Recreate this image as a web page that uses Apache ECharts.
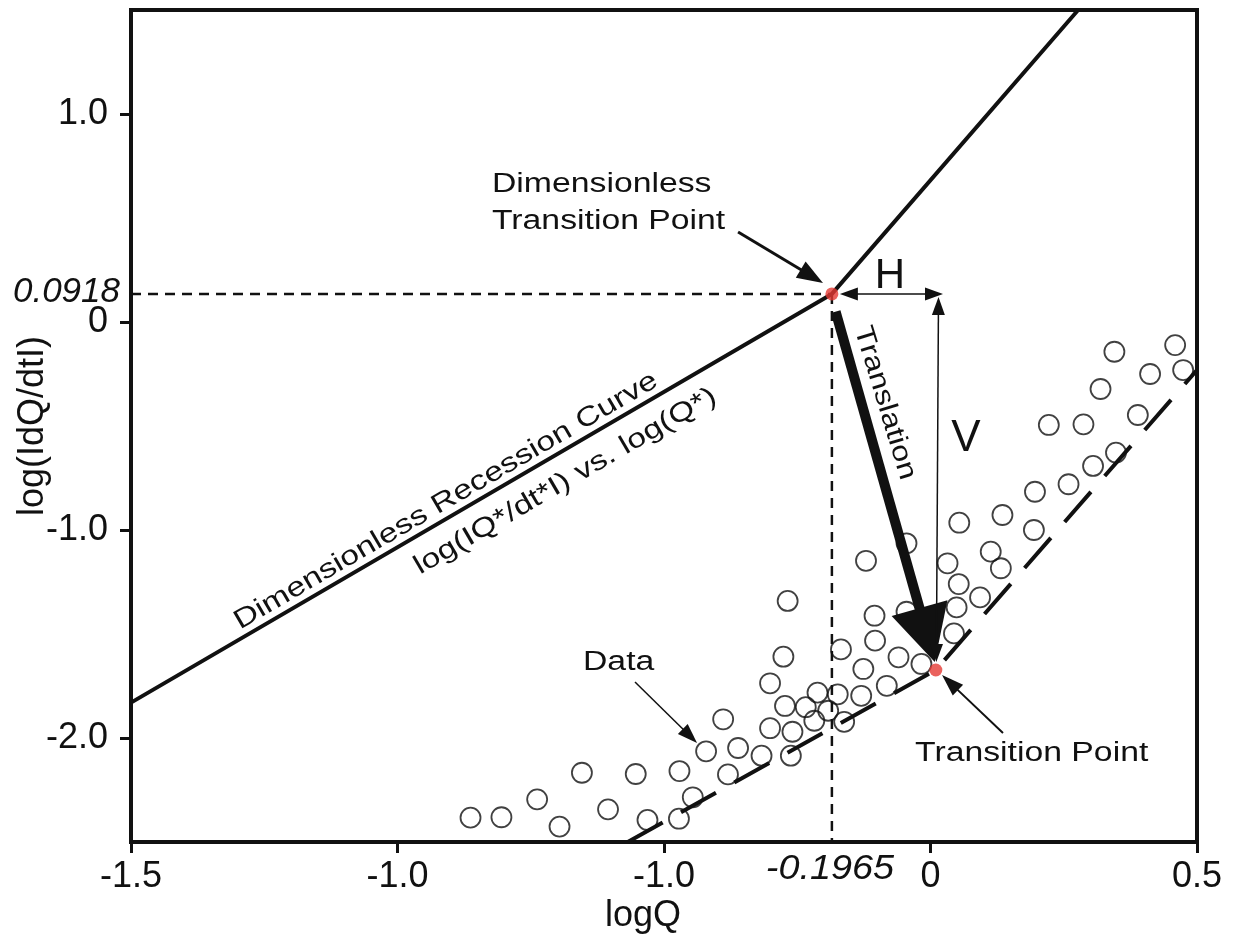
<!DOCTYPE html>
<html>
<head>
<meta charset="utf-8">
<title>Recession curve translation</title>
<script src="https://cdn.jsdelivr.net/npm/echarts@6/dist/echarts.min.js"></script>
<style>
  html, body { margin: 0; padding: 0; background: #fff; }
  #main { width: 1237px; height: 936px; }
</style>
</head>
<body>
<div id="main"></div>
<script>
var FONT = '"Liberation Sans", Arial, sans-serif';

// axis ticks (the third x label really reads -1.0 in the original)
var xTickValues = [-1.5, -1.0, -0.5, 0, 0.5];
var xTickLabels = ['-1.5', '-1.0', '-1.0', '0', '0.5'];
var yTickValues = [1.0, 0, -1.0, -2.0];
var yTickLabels = ['1.0', '0', '-1.0', '-2.0'];

// dimensionless recession curve, and the same curve moved onto the data
var recessionCurve = [[-1.5, -1.83], [-0.185, 0.135], [0.277, 1.5]];
var shiftedCurve = [[-0.568, -2.5], [0.01, -1.673], [0.5, -0.231]];

var dimPoint = [-0.185, 0.135];
var transPoint = [0.01, -1.673];
var dimLabelX = '-0.1965';
var dimLabelY = '0.0918';

// observed recession data (logQ, log|dQ/dt|)
var dataQ = [-0.863, -0.805, -0.738, -0.696, -0.654, -0.605, -0.553, -0.531, -0.471, -0.472,
  -0.446, -0.421, -0.389, -0.380, -0.361, -0.317, -0.262, -0.301, -0.259, -0.273,
  -0.301, -0.276, -0.268, -0.234, -0.212, -0.218, -0.192, -0.174, -0.162, -0.168,
  -0.130, -0.126, -0.104, -0.105, -0.121, -0.082, -0.060, -0.045, -0.017, -0.045,
  0.054, 0.135, 0.032, 0.053, 0.049, 0.044, 0.093, 0.113, 0.132, 0.194,
  0.196, 0.259, 0.305, 0.348, 0.389, 0.222, 0.287, 0.319, 0.345, 0.412,
  0.459, 0.474];
var dataRate = [-2.383, -2.381, -2.295, -2.426, -2.167, -2.343, -2.173, -2.394, -2.159, -2.388,
  -2.285, -2.064, -1.910, -2.175, -2.048, -2.085, -2.085, -1.953, -1.970, -1.846,
  -1.737, -1.609, -1.341, -1.852, -1.782, -1.917, -1.869, -1.790, -1.922, -1.574,
  -1.797, -1.668, -1.532, -1.412, -1.148, -1.749, -1.612, -1.064, -1.644, -1.393,
  -0.965, -0.928, -1.160, -1.260, -1.372, -1.497, -1.324, -1.104, -1.184, -1.000,
  -0.816, -0.780, -0.692, -0.628, -0.447, -0.495, -0.492, -0.322, -0.143, -0.250,
  -0.111, -0.231];

// annotation arrows, [from, to] in axis units
var translationArrow = [[-0.178, 0.05], [0.008, -1.635]];
var hArrow = [[-0.170, 0.135], [0.0235, 0.135]];
var vArrow = [[0.015, 0.12], [0.011, -1.635]];
var dimArrow = [[-0.361, 0.433], [-0.2017, 0.1875]];
var dataArrow = [[-0.5544, -1.731], [-0.438, -2.024]];
var transArrow = [[0.136, -1.976], [0.0216, -1.697]];

function tickText(values, labels) {
  return function (v) {
    for (var i = 0; i < values.length; i++) {
      if (Math.abs(values[i] - v) < 1e-9) return labels[i];
    }
    return '';
  };
}

var chart = echarts.init(document.getElementById('main'));

var option = {
  animation: false,
  backgroundColor: '#fff',
  grid: {
    left: 131, right: 40, top: 10, bottom: 94,
    outerBoundsMode: 'none', containLabel: false,
    show: true, borderColor: '#111', borderWidth: 4
  },
  xAxis: {
    type: 'value', min: -1.5, max: 0.5,
    name: 'logQ', nameLocation: 'middle', nameGap: 56, nameMoveOverlap: false,
    nameTextStyle: { fontFamily: FONT, fontSize: 36, color: '#111', padding: [0, 42, 0, 0] },
    axisLine: { show: true, onZero: false, lineStyle: { color: '#111', width: 4 } },
    axisTick: { show: true, customValues: xTickValues, length: 11, lineStyle: { color: '#111', width: 3 } },
    axisLabel: {
      customValues: xTickValues, margin: 17, fontFamily: FONT, fontSize: 36, color: '#111',
      formatter: tickText(xTickValues, xTickLabels)
    },
    splitLine: { show: false }
  },
  yAxis: {
    type: 'value', min: -2.5, max: 1.5,
    name: 'log(IdQ/dtI)', nameLocation: 'middle', nameGap: 80, nameMoveOverlap: false,
    nameTextStyle: { fontFamily: FONT, fontSize: 36, color: '#111' },
    axisLine: { show: true, onZero: false, lineStyle: { color: '#111', width: 4 } },
    axisTick: { show: true, customValues: yTickValues, length: 11, lineStyle: { color: '#111', width: 3 } },
    axisLabel: {
      customValues: yTickValues, margin: 23, fontFamily: FONT, fontSize: 36, color: '#111',
      formatter: tickText(yTickValues, yTickLabels)
    },
    splitLine: { show: false }
  },
  series: [
    {
      type: 'line', data: recessionCurve, symbol: 'none', silent: true, z: 3,
      lineStyle: { color: '#111', width: 4 }
    },
    {
      type: 'line', data: shiftedCurve, symbol: 'none', silent: true, z: 3,
      lineStyle: { color: '#111', width: 4, type: [40, 21] }
    },
    {
      type: 'line', data: [[-1.5, dimPoint[1]], dimPoint], symbol: 'none', silent: true,
      lineStyle: { color: '#111', width: 2.5, type: [10, 7] }
    },
    {
      type: 'line', data: [dimPoint, [dimPoint[0], -2.5]], symbol: 'none', silent: true,
      lineStyle: { color: '#111', width: 2.5, type: [10, 7] }
    },
    {
      type: 'scatter', symbol: 'circle', symbolSize: 20, silent: true, z: 4,
      data: dataQ.map(function (q, i) { return [q, dataRate[i]]; }),
      itemStyle: { color: 'rgba(255,255,255,0)', borderColor: '#111', borderWidth: 1.8 }
    },
    {
      type: 'scatter', symbol: 'circle', symbolSize: 13, silent: true, z: 200,
      data: [dimPoint, transPoint],
      itemStyle: { color: '#e53b35' }
    }
  ]
};

chart.setOption(option);

function px(p) { return chart.convertToPixel({ gridIndex: 0 }, p); }

function arrow(pair, lw, headLen, headW, both) {
  var a = px(pair[0]), b = px(pair[1]);
  var dx = b[0] - a[0], dy = b[1] - a[1];
  var len = Math.sqrt(dx * dx + dy * dy);
  var ux = dx / len, uy = dy / len, nx = -uy, ny = ux;
  function head(tip, sx, sy) {
    var bx = tip[0] - sx * headLen, by = tip[1] - sy * headLen;
    return {
      type: 'polygon', z: 100, silent: true,
      shape: { points: [[tip[0], tip[1]], [bx + nx * headW / 2, by + ny * headW / 2], [bx - nx * headW / 2, by - ny * headW / 2]] },
      style: { fill: '#111' }
    };
  }
  var s = both ? [a[0] + ux * headLen * 0.8, a[1] + uy * headLen * 0.8] : a;
  var e = [b[0] - ux * headLen * 0.8, b[1] - uy * headLen * 0.8];
  var els = [{
    type: 'line', z: 100, silent: true,
    shape: { x1: s[0], y1: s[1], x2: e[0], y2: e[1] },
    style: { stroke: '#111', lineWidth: lw }
  }, head(b, ux, uy)];
  if (both) els.push(head(a, -ux, -uy));
  return els;
}

function text(pos, str, opt) {
  var p = px(pos);
  return {
    type: 'text', z: 100, silent: true,
    x: p[0] + (opt.dx || 0), y: p[1] + (opt.dy || 0),
    rotation: opt.rotation || 0, scaleX: opt.scaleX || 1,
    style: {
      text: str, font: opt.font, fill: '#111',
      align: opt.align, textAlign: opt.align,
      verticalAlign: opt.valign, textVerticalAlign: opt.valign,
      lineHeight: opt.lineHeight
    }
  };
}

var p0 = px(recessionCurve[0]), p1 = px(recessionCurve[1]);
var curveAngle = Math.atan2(p0[1] - p1[1], p1[0] - p0[0]);
var grid0 = px([-1.5, -2.5]);

var ann = '27px ' + FONT;
var elements = [].concat(
  arrow(translationArrow, 10, 56, 58, false),
  arrow(hArrow, 1.5, 18, 13, true),
  arrow(vArrow, 1.5, 18, 13, true),
  arrow(dimArrow, 3, 26, 19, false),
  arrow(dataArrow, 1.5, 20, 14, false),
  arrow(transArrow, 2, 22, 15, false),
  [
    text([-0.8227, 0.75], 'Dimensionless\nTransition Point', { font: ann, scaleX: 1.25, align: 'left', valign: 'top', lineHeight: 37 }),
    text([-0.652, -1.639], 'Data', { font: ann, scaleX: 1.25, align: 'left', valign: 'middle' }),
    text([-0.029, -2.077], 'Transition Point', { font: ann, scaleX: 1.25, align: 'left', valign: 'middle' }),
    text([-0.076, 0.221], 'H', { font: '42px ' + FONT, align: 'center', valign: 'middle' }),
    text([0.0666, -0.548], 'V', { font: '44px ' + FONT, align: 'center', valign: 'middle', dy: 3 }),
    text([-0.0854, -0.389], 'Translation', { font: ann, scaleX: 1.2, align: 'center', valign: 'middle', rotation: -73 * Math.PI / 180 }),
    text([-1.29, -1.495], 'Dimensionless Recession Curve', { font: ann, scaleX: 1.25, align: 'left', valign: 'bottom', rotation: curveAngle, dy: 2 }),
    text([-0.952, -1.24], 'log(IQ*/dt*I) vs. log(Q*)', { font: ann, scaleX: 1.25, align: 'left', valign: 'bottom', rotation: curveAngle }),
    {
      type: 'text', z: 100, silent: true,
      x: px(dimPoint)[0] - 2, y: grid0[1] + 27, scaleX: 1.08,
      style: { text: dimLabelX, font: 'italic 35px ' + FONT, fill: '#111', align: 'center', textAlign: 'center', verticalAlign: 'middle', textVerticalAlign: 'middle' }
    },
    {
      type: 'text', z: 100, silent: true,
      x: grid0[0] - 11, y: px(dimPoint)[1] - 2,
      style: { text: dimLabelY, font: 'italic 35px ' + FONT, fill: '#111', align: 'right', textAlign: 'right', verticalAlign: 'middle', textVerticalAlign: 'middle' }
    }
  ]
);

chart.setOption({ graphic: { elements: elements } });
</script>
</body>
</html>
